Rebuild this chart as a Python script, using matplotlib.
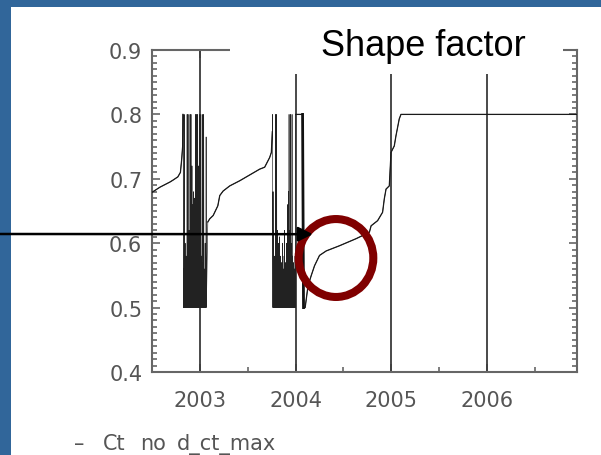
import numpy as np
import matplotlib
matplotlib.use("Agg")
import matplotlib.pyplot as plt
from matplotlib.patches import Rectangle, Ellipse
from matplotlib.ticker import MultipleLocator

# ---------------- data ----------------
# smooth part before first noisy burst
seg1_t = [2002.50, 2002.583, 2002.6875, 2002.72, 2002.77, 2002.797, 2002.81, 2002.82, 2002.823]
seg1_v = [0.679, 0.687, 0.695, 0.698, 0.703, 0.710, 0.730, 0.750, 0.800]

# noisy bursts: peaks that alternate with the floor value
burst_floor = 0.50

burst1_start, burst1_end = 2002.826, 2003.068
burst1_peaks = [0.80, 0.56, 0.80, 0.54, 0.60, 0.53, 0.58, 0.55,
                0.80, 0.57, 0.80, 0.54, 0.62, 0.56, 0.80, 0.58,
                0.80, 0.60, 0.72, 0.64, 0.66, 0.68, 0.62, 0.67,
                0.65, 0.80, 0.63, 0.80, 0.60, 0.80, 0.58, 0.72,
                0.56, 0.80, 0.60, 0.55, 0.80, 0.58, 0.54, 0.80,
                0.57, 0.53, 0.80, 0.56, 0.55, 0.60, 0.54, 0.765]

# smooth part between bursts
seg2_t = [2003.083, 2003.104, 2003.139, 2003.1875, 2003.208, 2003.243, 2003.3125,
          2003.417, 2003.521, 2003.625, 2003.677, 2003.729, 2003.747, 2003.757]
seg2_v = [0.633, 0.638, 0.643, 0.658, 0.674, 0.681, 0.689,
          0.697, 0.706, 0.715, 0.718, 0.733, 0.741, 0.773]

burst2_start, burst2_end = 2003.760, 2003.997
burst2_peaks = [0.80, 0.68, 0.62, 0.56, 0.58, 0.55, 0.80, 0.60,
                0.80, 0.57, 0.62, 0.54, 0.60, 0.56, 0.61, 0.55,
                0.58, 0.53, 0.57, 0.55, 0.60, 0.54, 0.56, 0.58,
                0.62, 0.55, 0.57, 0.53, 0.60, 0.56, 0.66, 0.58,
                0.68, 0.80, 0.62, 0.57, 0.80, 0.60, 0.56, 0.80,
                0.58, 0.55, 0.57, 0.54, 0.56, 0.58]

# bracket + smooth recovery + plateau
seg3_t = [2004.001, 2004.073, 2004.083, 2004.10, 2004.13, 2004.164, 2004.198, 2004.25,
          2004.32, 2004.458, 2004.632, 2004.771, 2004.789, 2004.857, 2004.909, 2004.927,
          2004.945, 2004.979, 2004.99, 2004.997, 2005.031, 2005.049, 2005.083, 2005.101,
          2006.94]
seg3_v = [0.800, 0.800, 0.500, 0.500, 0.534, 0.550, 0.565, 0.581,
          0.588, 0.596, 0.607, 0.617, 0.627, 0.635, 0.648, 0.669,
          0.684, 0.689, 0.720, 0.741, 0.751, 0.767, 0.793, 0.800,
          0.800]

years = [2003, 2004, 2005, 2006]
year_labels = ["2003", "2004", "2005", "2006"]
y_ticks = [0.4, 0.5, 0.6, 0.7, 0.8, 0.9]
y_ticklabels = ["0.4", "0.5", "0.6", "0.7", "0.8", "0.9"]

legend_words = ["–", "Ct", "no", "d_ct_max"]
title_text = "Shape factor"


def burst(start, end, peaks, floor):
    n = len(peaks)
    tt = np.linspace(start, end, 2 * n)
    vv = np.empty(2 * n)
    vv[0::2] = peaks
    vv[1::2] = floor
    return tt, vv


# ---------------- figure ----------------
W, H = 601, 456
fig = plt.figure(figsize=(W / 100, H / 100), dpi=100)
fig.patch.set_facecolor("white")

# blue slide frame
blue = "#31669a"
fig.add_artist(Rectangle((0, 0), 11 / W, 1, transform=fig.transFigure,
                         facecolor=blue, edgecolor="none", zorder=-2))
fig.add_artist(Rectangle((0, 1 - 8 / H), 1, 8 / H, transform=fig.transFigure,
                         facecolor=blue, edgecolor="none", zorder=-2))

ax = fig.add_axes([152 / W, (H - 373) / H, (577 - 152) / W, (373 - 51) / H])
ax.set_facecolor("white")

b1t, b1v = burst(burst1_start, burst1_end, burst1_peaks, burst_floor)
b2t, b2v = burst(burst2_start, burst2_end, burst2_peaks, burst_floor)
t = np.concatenate([seg1_t, b1t, seg2_t, b2t, seg3_t])
v = np.concatenate([seg1_v, b1v, seg2_v, b2v, seg3_v])
# whole series thin (bursts look like fine grey strokes), smooth parts re-drawn
ax.plot(t, v, color="#222222", lw=0.45, zorder=3)
for st, sv in ((seg1_t, seg1_v), (seg2_t, seg2_v), (seg3_t, seg3_v)):
    ax.plot(st, sv, color="#1a1a1a", lw=0.9, zorder=3)
ax.plot([seg3_t[1], seg3_t[2]], [seg3_v[1], seg3_v[2]], color="#111111",
        lw=2.0, zorder=3)

for yr in years:
    ax.axvline(yr, color="#3a3a3a", lw=1.3, zorder=2)

ax.set_xlim(2002.5, 2006.94)
ax.set_ylim(0.4, 0.9)
ax.set_xticks(years)
ax.set_xticklabels(year_labels)
ax.xaxis.set_minor_locator(MultipleLocator(0.5))
ax.set_yticks(y_ticks)
ax.set_yticklabels(y_ticklabels)
ax.yaxis.set_minor_locator(MultipleLocator(0.01))

gray = "#555555"
for s in ax.spines.values():
    s.set_color("#666666")
    s.set_linewidth(1.5)
ax.tick_params(which="both", direction="in", top=True, right=True,
               colors="#666666", labelcolor=gray, labelsize=15, width=1.2)
ax.tick_params(which="major", length=6)
ax.tick_params(which="minor", length=3.5)
ax.tick_params(axis="y", pad=7)
ax.tick_params(axis="x", pad=13)

# red circle highlight
ax.add_patch(Ellipse((2004.422, 0.577), 0.78, 0.121, fill=False,
                     edgecolor="#800000", lw=5.8, zorder=6))

# arrow from left edge
ax.annotate("", xy=(2004.18, 0.614), xytext=(0, (H - 235) / H),
            textcoords="figure fraction", xycoords="data",
            arrowprops=dict(arrowstyle="-|>", color="black", lw=1.8,
                            mutation_scale=22, shrinkA=0, shrinkB=0),
            annotation_clip=False, zorder=7)

# white title box covering top of plot
fig.add_artist(Rectangle((230 / W, (H - 75) / H), (563 - 230) / W, (75 - 8) / H,
                         transform=fig.transFigure, facecolor="white",
                         edgecolor="none", zorder=5))
fig.text(423 / W, (H - 56) / H, title_text, ha="center", va="baseline",
         fontsize=26, color="black", family="Liberation Sans", zorder=6)

# legend-like text (words placed at their positions in the slide)
word_x = [74, 103, 140, 177]
for wx, wtext in zip(word_x, legend_words):
    fig.text(wx / W, (H - 450) / H, wtext, ha="left", va="baseline",
             fontsize=15, color=gray, zorder=6)

fig.savefig("out.png", dpi=100)
